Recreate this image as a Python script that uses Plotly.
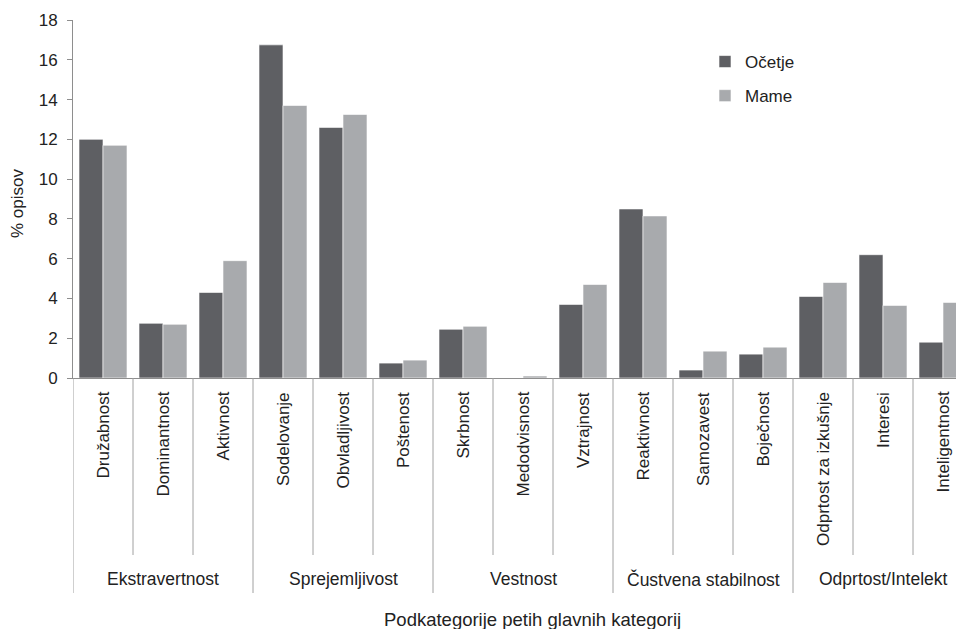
import plotly.graph_objects as go

subcategories = ["Družabnost", "Dominantnost", "Aktivnost",
                 "Sodelovanje", "Obvladljivost", "Poštenost",
                 "Skrbnost", "Medodvisnost", "Vztrajnost",
                 "Reaktivnost", "Samozavest", "Boječnost",
                 "Odprtost za izkušnje", "Interesi", "Inteligentnost"]
groups = ["Ekstravertnost", "Sprejemljivost", "Vestnost",
          "Čustvena stabilnost", "Odprtost/Intelekt"]
group_sizes = [3, 3, 3, 3, 3]
ocetje = [12.0, 2.75, 4.3, 16.75, 12.6, 0.75, 2.45, 0.0, 3.7, 8.5, 0.4, 1.2, 4.1, 6.2, 1.8]
mame = [11.7, 2.7, 5.9, 13.7, 13.25, 0.9, 2.6, 0.1, 4.7, 8.15, 1.35, 1.55, 4.8, 3.65, 3.8]
y_ticks = [0, 2, 4, 6, 8, 10, 12, 14, 16, 18]

# page has an 8px body margin, so the figure is made 8px smaller
OFF = 8
W, H = 964 - OFF, 629 - OFF
L, T = 73 - OFF, 20 - OFF
BOTTOM = 378  # screen y of the x axis
B = 629 - BOTTOM
R = 0
PW, PH = W - L - R, H - T - B
FONT = "Liberation Sans, Arial, sans-serif"
TXT = "#222222"
AX = "#8e8e8e"


def py(p):
    # screen y -> paper
    return (BOTTOM - p) / PH


def px(p):
    # screen x -> paper
    return (p - 73) / PW


fig = go.Figure()
fig.add_trace(go.Bar(x=subcategories, y=ocetje, name="Očetje", legendgroup="a",
                     marker=dict(color="#5e5f63", line=dict(color="white", width=0.6))))
fig.add_trace(go.Bar(x=subcategories, y=mame, name="Mame", legendgroup="b",
                     marker=dict(color="#a8aaad", line=dict(color="white", width=0.6))))

shapes = []
annotations = []
for c in subcategories:
    annotations.append(dict(x=c, xref="x", y=py(390), yref="paper", text=c,
                            textangle=-90, xanchor="center", yanchor="top",
                            showarrow=False, font=dict(size=17, color=TXT, family=FONT)))
group_starts = set()
idx = 0
for s in group_sizes:
    group_starts.add(idx)
    idx += s
for i in range(len(subcategories)):
    end = 593 if i in group_starts else 555
    shapes.append(dict(type="line", xref="x", yref="paper", x0=i - 0.5, x1=i - 0.5,
                       y0=py(378), y1=py(end), line=dict(color="#a0a0a0", width=1)))
idx = 0
for g, s in zip(groups, group_sizes):
    annotations.append(dict(x=idx + (s - 1) / 2, xref="x", y=py(579), yref="paper", text=g,
                            xanchor="center", yanchor="middle", showarrow=False,
                            font=dict(size=17.5, color=TXT, family=FONT)))
    idx += s
annotations.append(dict(x=px(532), xref="paper", y=py(619), yref="paper",
                        text="Podkategorije petih glavnih kategorij", xanchor="center",
                        yanchor="middle", showarrow=False,
                        font=dict(size=18.5, color=TXT, family=FONT)))
annotations.append(dict(x=px(17), xref="paper", y=py(203), yref="paper",
                        text="% opisov", textangle=-90, xanchor="center",
                        yanchor="middle", showarrow=False,
                        font=dict(size=17, color=TXT, family=FONT)))

fig.update_layout(
    width=W, height=H,
    margin=dict(l=L, r=R, t=T, b=B, autoexpand=False),
    plot_bgcolor="white", paper_bgcolor="white",
    barmode="group", bargap=0.2, bargroupgap=0,
    font=dict(family=FONT, size=17, color=TXT),
    showlegend=True,
    legend=dict(x=px(705), y=py(44), xanchor="left", yanchor="top",
                bgcolor="rgba(0,0,0,0)", tracegroupgap=9,
                font=dict(size=17, color=TXT, family=FONT),
                itemwidth=30),
    xaxis=dict(range=[-0.5, 14.35], showticklabels=False, ticks="",
               showline=True, linecolor=AX, linewidth=1, showgrid=False, zeroline=False,
               fixedrange=True),
    yaxis=dict(range=[0, 18], tickvals=y_ticks, ticks="outside", ticklen=5,
               tickcolor=AX, showline=True, linecolor=AX, linewidth=1,
               showgrid=False, zeroline=False, ticklabelstandoff=6,
               tickfont=dict(size=17, color=TXT, family=FONT)),
    shapes=shapes,
    annotations=annotations,
)

fig.write_html("out.html")
